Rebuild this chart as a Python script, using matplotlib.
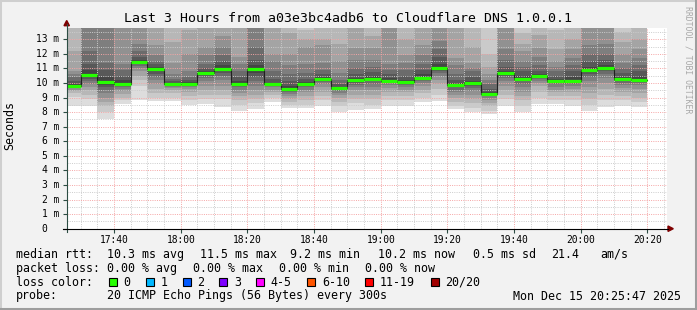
import numpy as np
import matplotlib
matplotlib.use('Agg')
import matplotlib.pyplot as plt
from matplotlib.patches import Rectangle, Polygon
from matplotlib.lines import Line2D

W, H = 697, 310
MONO = 'DejaVu Sans Mono'

# minutes after 17:00, left edge of every 5 minute step
col_start = list(range(25, 200, 5))
t_first = 25 + 47 / 60.0      # 17:25:47
t_last = t_first + 180        # 20:25:47

median = [9.8, 10.57, 10.06, 9.9, 11.44, 10.98, 9.9, 9.95, 10.71, 10.94,
          9.95, 10.98, 9.9, 9.56, 9.92, 10.29, 9.63, 10.18, 10.27, 10.16,
          10.04, 10.36, 11.05, 9.86, 9.99, 9.22, 10.66, 10.29, 10.45, 10.16,
          10.16, 10.89, 11.0, 10.25, 10.23]

# 20 sorted pings per step (ms)
pings = [
    [8.45, 9.05, 9.3, 9.45, 9.55, 9.62, 9.68, 9.72, 9.76, 9.8, 9.82, 9.9, 10.1, 10.4, 10.6, 10.8, 12.2, 14.5, 15, 16],
    [8.45, 8.9, 9.2, 9.5, 9.7, 9.9, 10.1, 10.3, 10.45, 10.55, 10.6, 10.9, 11.3, 12.2, 14.0, 14.5, 15, 16, 17, 18],
    [7.55, 8.0, 8.4, 8.7, 9.0, 9.3, 9.5, 9.7, 9.85, 10.0, 10.1, 10.4, 10.9, 11.4, 14.0, 14.5, 15, 16, 17, 18],
    [8.56, 8.8, 9.0, 9.25, 9.45, 9.6, 9.7, 9.8, 9.85, 9.9, 9.95, 10.2, 10.5, 10.9, 11.3, 14.0, 14.5, 15, 16, 17],
    [8.8, 9.8, 10.2, 10.5, 10.8, 11.0, 11.15, 11.3, 11.38, 11.42, 11.46, 11.6, 11.8, 12.2, 12.7, 14.0, 14.5, 15, 16, 17],
    [8.75, 9.0, 9.3, 9.6, 9.9, 10.2, 10.4, 10.6, 10.8, 10.95, 11.0, 11.1, 11.3, 11.5, 11.9, 12.6, 14.5, 15, 16, 17],
    [8.75, 9.0, 9.3, 9.5, 9.65, 9.75, 9.82, 9.86, 9.88, 9.9, 9.92, 9.98, 10.1, 10.3, 10.6, 11.4, 12.8, 14.5, 15, 16],
    [8.5, 8.8, 9.1, 9.4, 9.6, 9.75, 9.85, 9.9, 9.93, 9.95, 9.97, 10.05, 10.2, 10.4, 10.8, 12.0, 13.6, 14.5, 15, 16],
    [8.56, 8.9, 9.2, 9.5, 9.8, 10.1, 10.35, 10.5, 10.62, 10.7, 10.73, 10.85, 11.0, 11.3, 11.9, 12.5, 14.5, 15, 16, 17],
    [8.37, 8.9, 9.2, 9.5, 9.8, 10.2, 10.5, 10.7, 10.85, 10.95, 11.0, 11.2, 11.5, 11.9, 12.5, 13.2, 14.5, 15, 16, 17],
    [8.1, 8.5, 8.8, 9.1, 9.3, 9.5, 9.7, 9.82, 9.9, 9.95, 10.0, 10.1, 10.4, 10.8, 11.3, 11.8, 14.5, 15, 16, 17],
    [8.22, 8.6, 8.9, 9.2, 9.5, 9.8, 10.1, 10.4, 10.7, 10.9, 11.0, 11.2, 11.6, 12.5, 14.2, 14.5, 15, 16, 17, 18],
    [8.67, 9.0, 9.2, 9.4, 9.55, 9.7, 9.8, 9.85, 9.88, 9.9, 9.92, 10.0, 10.3, 10.8, 11.5, 12.0, 14.5, 15, 16, 17],
    [8.3, 8.5, 8.7, 8.9, 9.1, 9.25, 9.35, 9.45, 9.52, 9.56, 9.6, 9.8, 10.1, 10.6, 11.2, 12.0, 13.4, 14.5, 15, 16],
    [8.25, 8.5, 8.8, 9.1, 9.35, 9.55, 9.7, 9.8, 9.86, 9.9, 9.95, 10.05, 10.3, 10.7, 11.3, 12.5, 13.0, 13.6, 14.5, 15],
    [8.45, 8.8, 9.1, 9.4, 9.7, 9.9, 10.05, 10.15, 10.22, 10.28, 10.32, 10.4, 10.6, 10.9, 11.4, 12.6, 13.0, 13.8, 14.5, 15],
    [8.0, 8.4, 8.7, 8.95, 9.15, 9.3, 9.45, 9.55, 9.6, 9.63, 9.66, 9.75, 9.9, 10.2, 10.7, 11.5, 12.7, 14.5, 15, 16],
    [8.15, 8.6, 8.9, 9.2, 9.5, 9.7, 9.85, 9.98, 10.1, 10.17, 10.2, 10.35, 10.6, 11.0, 11.6, 12.4, 14.5, 15, 16, 17],
    [8.22, 8.5, 8.9, 9.2, 9.5, 9.75, 9.95, 10.1, 10.2, 10.27, 10.3, 10.45, 10.75, 11.1, 11.6, 12.4, 13.2, 14.5, 15, 16],
    [8.45, 8.8, 9.1, 9.4, 9.65, 9.85, 9.98, 10.06, 10.12, 10.16, 10.2, 10.35, 10.6, 10.9, 11.3, 14.2, 14.5, 15, 16, 17],
    [8.4, 8.8, 9.1, 9.35, 9.55, 9.72, 9.85, 9.94, 10.0, 10.04, 10.07, 10.2, 10.5, 10.9, 11.4, 11.9, 13.0, 14.5, 15, 16],
    [8.67, 9.0, 9.3, 9.55, 9.8, 10.0, 10.15, 10.25, 10.32, 10.36, 10.4, 10.6, 10.9, 11.3, 11.9, 12.6, 14.5, 15, 16, 17],
    [8.79, 9.2, 9.6, 9.9, 10.2, 10.5, 10.7, 10.85, 10.97, 11.03, 11.08, 11.3, 11.8, 12.3, 12.9, 14.3, 14.5, 15, 16, 17],
    [8.22, 8.45, 8.7, 8.95, 9.2, 9.4, 9.55, 9.7, 9.8, 9.86, 9.9, 10.0, 10.2, 10.6, 11.2, 11.7, 14.5, 15, 16, 17],
    [8.0, 8.3, 8.6, 8.9, 9.2, 9.45, 9.65, 9.82, 9.93, 9.99, 10.03, 10.15, 10.4, 10.85, 11.0, 11.4, 12.5, 14.5, 15, 16],
    [7.87, 8.1, 8.4, 8.65, 8.85, 9.0, 9.1, 9.16, 9.2, 9.22, 9.26, 9.4, 9.6, 9.9, 10.2, 10.6, 11.1, 12.0, 14.5, 15],
    [8.45, 8.9, 9.2, 9.5, 9.8, 10.1, 10.35, 10.5, 10.6, 10.66, 10.7, 10.85, 11.1, 11.6, 12.3, 14.3, 14.5, 15, 16, 17],
    [8.0, 8.4, 8.8, 9.1, 9.4, 9.7, 9.95, 10.1, 10.2, 10.28, 10.32, 10.5, 10.8, 11.1, 11.5, 12.2, 12.7, 13.4, 14.5, 15],
    [8.56, 9.0, 9.4, 9.8, 10.0, 10.15, 10.28, 10.36, 10.42, 10.45, 10.48, 10.6, 10.85, 11.2, 11.8, 12.4, 13.3, 14.5, 15, 16],
    [8.56, 8.8, 9.1, 9.35, 9.55, 9.75, 9.9, 10.02, 10.1, 10.16, 10.2, 10.3, 10.5, 10.8, 11.1, 11.5, 12.3, 13.6, 14.5, 15],
    [8.45, 8.8, 9.1, 9.4, 9.6, 9.8, 9.95, 10.05, 10.12, 10.16, 10.2, 10.4, 10.8, 11.2, 11.7, 12.3, 13.0, 14.5, 15, 16],
    [8.1, 8.5, 8.9, 9.3, 9.7, 10.1, 10.4, 10.6, 10.78, 10.88, 10.92, 11.1, 11.5, 12.0, 12.6, 14.3, 14.5, 15, 16, 17],
    [8.37, 8.8, 9.2, 9.6, 10.0, 10.35, 10.6, 10.8, 10.93, 11.0, 11.05, 11.25, 11.6, 12.0, 12.7, 14.2, 14.5, 15, 16, 17],
    [8.45, 8.8, 9.1, 9.4, 9.65, 9.85, 10.0, 10.1, 10.18, 10.23, 10.27, 10.4, 10.7, 11.0, 11.4, 12.0, 12.8, 13.5, 14.5, 15],
    [8.33, 8.7, 9.0, 9.3, 9.6, 9.85, 10.0, 10.1, 10.18, 10.23, 10.27, 10.45, 10.8, 11.2, 11.7, 12.3, 13.0, 14.5, 15, 16],
]

y_max = 13.77
x_ticks = [40, 60, 80, 100, 120, 140, 160, 180, 200]
x_labels = ['17:40', '18:00', '18:20', '18:40', '19:00', '19:20', '19:40', '20:00', '20:20']

title = 'Last 3 Hours from a03e3bc4adb6 to Cloudflare DNS 1.0.0.1'
loss_names = ['0', '1', '2', '3', '4-5', '6-10', '11-19', '20/20']
loss_colors = ['#26ff00', '#00b8ff', '#0059ff', '#7e00ff', '#ff00ff', '#ff5500', '#ff0000', '#a10000']


def fx(x):
    return x / W


def fy(y):
    return 1 - y / H


fig = plt.figure(figsize=(W / 100, H / 100), dpi=100, facecolor='#f2f2f2')

# border shading
fig.add_artist(Rectangle((0, 0), 1, 1, transform=fig.transFigure, fill=False,
                         edgecolor='#cfcfcf', lw=2.2))
fig.add_artist(Line2D([fx(0), fx(697)], [fy(308.5), fy(308.5)], color='#9e9e9e', lw=2.2))
fig.add_artist(Line2D([fx(695.5), fx(695.5)], [fy(0), fy(310)], color='#9e9e9e', lw=2.2))

x0, x1, y0, y1 = 66.7, 666.7, 28, 228.7
ax = fig.add_axes([fx(x0), fy(y1), fx(x1 - x0), (y1 - y0) / H])
ax.set_facecolor('white')
ax.set_xlim(t_first, t_last)
ax.set_ylim(0, y_max)

# smoke: pairs of pings from outside in, darker towards the middle
P = np.array(pings)
left = np.array(col_start)
for i in range(10):
    g = (9 - i) * 19 + 50
    ax.bar(left, P[:, 19 - i] - P[:, i], bottom=P[:, i], width=5, align='edge',
           color='#%02x%02x%02x' % (g, g, g), linewidth=0, zorder=1)

# median
med = np.array(median)
ax.step(np.append(left, left[-1] + 5), np.append(med, med[-1]), where='post',
        color='#202020', lw=0.8, zorder=2)
ax.hlines(med, left, left + 5, colors=loss_colors[0], lw=2.3, zorder=4)

# grid
ax.set_yticks(np.arange(0, 14, 1))
ax.set_yticks(np.arange(0.5, 14, 1), minor=True)
ax.set_xticks(x_ticks)
ax.set_xticks(np.arange(30, 206, 5), minor=True)
ax.set_xticklabels(x_labels, family=MONO, fontsize=6.9)
ax.set_yticklabels([])
ax.grid(which='minor', color='#cccccc', ls=(0, (1, 1.3)), lw=0.7)
ax.grid(which='major', color='#f5a5a5', ls=(0, (1, 1.3)), lw=0.7)
ax.tick_params(which='major', length=3, width=0.8, color='#2c4d43', pad=1.5)
ax.tick_params(which='minor', length=0)
for s in ax.spines.values():
    s.set_visible(False)

for v in range(0, 14):
    lab = '%d m' % v if v else '0'
    off = -5.2 if v else -14.2
    ax.annotate(lab, xy=(0, v), xycoords=('axes fraction', 'data'), xytext=(off, 0),
                textcoords='offset points', ha='right', va='center', family=MONO, fontsize=6.9)

# axes lines and arrows
fig.add_artist(Line2D([fx(66.7), fx(66.7)], [fy(232), fy(24)], color='#2c4d43', lw=0.8))
fig.add_artist(Line2D([fx(63), fx(668)], [fy(228.7), fy(228.7)], color='#000000', lw=0.8))
fig.add_artist(Polygon([[fx(64), fy(25.7)], [fx(69.4), fy(25.7)], [fx(66.7), fy(20.5)]],
                       closed=True, color='#7f0000', transform=fig.transFigure))
fig.add_artist(Polygon([[fx(668), fy(226)], [fx(668), fy(231.4)], [fx(673.3), fy(228.7)]],
                       closed=True, color='#7f0000', transform=fig.transFigure))

fig.text(fx(347.5), fy(19), title, ha='center', va='center', family=MONO, fontsize=9.5)
fig.text(fx(10), fy(125), 'Seconds', rotation=90, ha='center', va='center', family=MONO, fontsize=8.4)
fig.text(fx(688), fy(60), 'RRDTOOL / TOBI OETIKER', rotation=270, ha='center', va='center',
         family=MONO, fontsize=5.9, color='#a8a8a8')

# legend
line1 = [(16, 'median rtt:'), (107.3, '10.3 ms avg'), (200, '11.5 ms max'), (290.3, '9.2 ms min'),
         (377.5, '10.2 ms now'), (472.7, '0.5 ms sd'), (550.7, '21.4'), (600, 'am/s')]
line2 = [(16, 'packet loss:'), (107.3, '0.00 % avg'), (193.3, '0.00 % max'), (279.3, '0.00 % min'),
         (365, '0.00 % now')]
line4 = [(16, 'probe:'), (107.3, '20 ICMP Echo Pings (56 Bytes) every 300s'),
         (512.7, 'Mon Dec 15 20:25:47 2025')]
for yy, items in [(254.3, line1), (268.3, line2), (296, line4)]:
    for xx, s in items:
        fig.text(fx(xx), fy(yy), s, ha='left', va='center', family=MONO, fontsize=8.4)

fig.text(fx(16), fy(282.3), 'loss color:', ha='left', va='center', family=MONO, fontsize=8.4)
box_x = [108.7, 146, 182.7, 219.3, 256, 307.3, 365.3, 430.7]
for bx, name, c in zip(box_x, loss_names, loss_colors):
    fig.add_artist(Rectangle((fx(bx), fy(286.3)), 8 / W, 8 / H, transform=fig.transFigure,
                             facecolor=c, edgecolor='black', lw=0.8))
    fig.text(fx(bx + 14.6), fy(282.3), name, ha='left', va='center', family=MONO, fontsize=8.4)

fig.savefig('out.png', dpi=100, facecolor=fig.get_facecolor())
